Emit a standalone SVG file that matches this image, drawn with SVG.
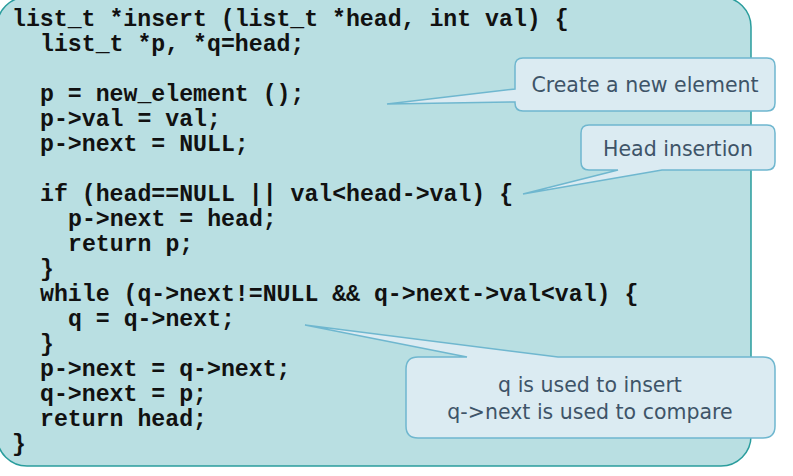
<svg xmlns="http://www.w3.org/2000/svg" width="793" height="476" viewBox="0 0 793 476">
<style>
.code{font-family:"Liberation Mono","Courier New",monospace;font-weight:bold;font-size:23.2px;fill:#111}
.call{fill:#DBEBF2;stroke:#6FB7CF;stroke-width:1.5}
.ct{font-family:"DejaVu Sans",Verdana,sans-serif;font-size:20.5px;fill:#3E5468;text-anchor:middle}
</style>
<rect width="793" height="476" fill="#fff"/>
<g id="codebox">
<rect x="-3" y="-3" width="754" height="469" rx="30" fill="#B9DFE2" stroke="#2A9D9D" stroke-width="1.5"/>
<text class="code" xml:space="preserve">
<tspan x="12" y="26">list_t *insert (list_t *head, int val) {</tspan>
<tspan x="40" y="51">list_t *p, *q=head;</tspan>
<tspan x="40" y="101">p = new_element ();</tspan>
<tspan x="40" y="126">p-&gt;val = val;</tspan>
<tspan x="40" y="151">p-&gt;next = NULL;</tspan>
<tspan x="40" y="201">if (head==NULL || val&lt;head-&gt;val) {</tspan>
<tspan x="68" y="226">p-&gt;next = head;</tspan>
<tspan x="68" y="251">return p;</tspan>
<tspan x="40" y="276">}</tspan>
<tspan x="40" y="301">while (q-&gt;next!=NULL &amp;&amp; q-&gt;next-&gt;val&lt;val) {</tspan>
<tspan x="68" y="326">q = q-&gt;next;</tspan>
<tspan x="40" y="351">}</tspan>
<tspan x="40" y="376">p-&gt;next = q-&gt;next;</tspan>
<tspan x="40" y="401">q-&gt;next = p;</tspan>
<tspan x="40" y="426">return head;</tspan>
<tspan x="12" y="451">}</tspan>
</text>
</g>
<g id="callout-new">
<path class="call" d="M523,58 H767 Q775,58 775,66 V103 Q775,111 767,111 H523 Q515,111 515,103 V102 L387,104 L515,89 V66 Q515,58 523,58 Z"/>
<text class="ct" x="645" y="92">Create a new element</text>
</g>
<g id="callout-head">
<path class="call" d="M589,125 H767 Q775,125 775,133 V162 Q775,170 767,170 H662 L523,194 L618,170 H589 Q581,170 581,162 V133 Q581,125 589,125 Z"/>
<text class="ct" x="678" y="156">Head insertion</text>
</g>
<g id="callout-q">
<path class="call" d="M418,357 H467 L305,325 L558,357 H763 Q775,357 775,369 V426 Q775,438 763,438 H418 Q406,438 406,426 V369 Q406,357 418,357 Z"/>
<text class="ct" x="590" y="392">q is used to insert</text>
<text class="ct" x="590" y="419">q-&gt;next is used to compare</text>
</g>
<g id="connectors"></g>
</svg>
